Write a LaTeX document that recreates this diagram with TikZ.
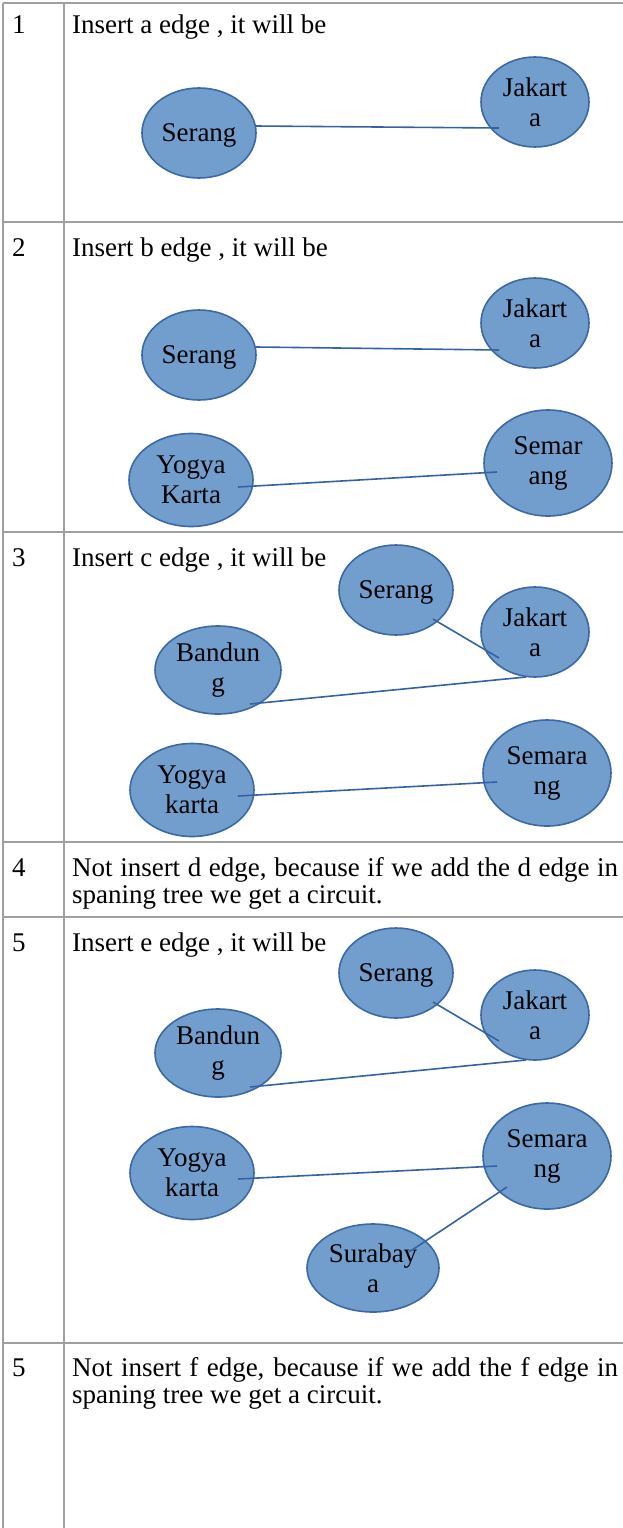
\documentclass[tikz,border=0pt]{standalone}
\usepackage{fontspec}
\setmainfont{Liberation Serif}
\usetikzlibrary{shapes.geometric,calc}
\definecolor{fil}{RGB}{114,158,206}
\definecolor{bdr}{RGB}{60,104,166}
\definecolor{edg}{RGB}{52,98,165}
\definecolor{grid}{RGB}{160,160,160}
\tikzset{
  city/.style={ellipse, draw=bdr, fill=fil, line width=1.6pt, inner sep=0pt, align=center, font=\fontsize{27}{30}\selectfont},
  sm/.style={city, minimum width=114pt, minimum height=90pt, text depth=0pt},
  md/.style={city, minimum width=108pt, minimum height=90pt},
  yg/.style={city, minimum width=124pt, minimum height=93pt},
  big/.style={city, minimum width=128pt, minimum height=106pt},
  bd/.style={city, minimum width=126pt, minimum height=88pt},
  sb/.style={city, minimum width=132pt, minimum height=88pt},
  edge/.style={draw=edg, line width=1.6pt},
  rule/.style={draw=grid, line width=1.2pt},
  txt/.style={anchor=base west, inner sep=0pt, font=\fontsize{27}{27}\selectfont}
}
\begin{document}
\begin{tikzpicture}[x=1pt,y=-1pt]
\useasboundingbox (0,0) rectangle (623,1528);
% table rules
\draw[rule] (3,3) -- (623,3);
\draw[rule] (3,222) -- (623,222);
\draw[rule] (3,532) -- (623,532);
\draw[rule] (3,842) -- (623,842);
\draw[rule] (3,917) -- (623,917);
\draw[rule] (3,1343) -- (623,1343);
\draw[rule] (3,3) -- (3,1528);
\draw[rule] (64,3) -- (64,1528);
% row labels
\node[txt] (n1) at (12,34) {1};
\node[txt] (t1) at (72,34) {Insert a edge , it will be};
\node[txt] (n2) at (12,256) {2};
\node[txt] (t2) at (72,256) {Insert b edge , it will be};
\node[txt] (n3) at (12,566) {3};
\node[txt] (t3) at (72,566) {Insert c edge , it will be};
\node[txt] (n4) at (12,876) {4};
\node[txt] (t4a) at (72,876) {\makebox[546pt][s]{Not insert d edge, because if we add the d edge in}};
\node[txt] (t4b) at (72,903) {spaning tree we get a circuit.};
\node[txt] (n5) at (12,951) {5};
\node[txt] (t5) at (72,951) {Insert e edge , it will be};
\node[txt] (n6) at (12,1376) {5};
\node[txt] (t6a) at (72,1376) {\makebox[546pt][s]{Not insert f edge, because if we add the f edge in}};
\node[txt] (t6b) at (72,1403) {spaning tree we get a circuit.};
% row 1
\node[sm] (S1) at (199,133) {Serang};
\node[md] (J1) at (535,102) {Jakart\\a};
\draw[edge] ($(S1)+(57,-7)$) -- ($(J1)+(-36,26)$);
% row 2
\node[sm] (S2) at (199,355) {Serang};
\node[md] (J2) at (535,323) {Jakart\\a};
\node[yg] (Y2) at (191,480) {Yogya\\Karta};
\node[big] (M2) at (548,463) {Semar\\ang};
\draw[edge] ($(S2)+(57,-8)$) -- ($(J2)+(-36,27)$);
\draw[edge] ($(Y2)+(47,7)$) -- ($(M2)+(-51,9)$);
% row 3
\node[sm] (S3) at (396,590) {Serang};
\node[md] (J3) at (535,632) {Jakart\\a};
\node[bd] (B3) at (218,670) {Bandun\\g};
\node[yg] (Y3) at (192,790) {Yogya\\karta};
\node[big] (M3) at (547,773) {Semara\\ng};
\draw[edge] ($(S3)+(37,29)$) -- ($(J3)+(-36,26)$);
\draw[edge] ($(B3)+(32,34)$) -- ($(J3)+(-9,45)$);
\draw[edge] ($(Y3)+(46,6)$) -- ($(M3)+(-50,9)$);
% row 5
\node[sm] (S5) at (396,973) {Serang};
\node[md] (J5) at (535,1015) {Jakart\\a};
\node[bd] (B5) at (218,1053) {Bandun\\g};
\node[yg] (Y5) at (192,1173) {Yogya\\karta};
\node[big] (M5) at (547,1156) {Semara\\ng};
\node[sb] (U5) at (373,1268) {Surabay\\a};
\draw[edge] ($(S5)+(37,29)$) -- ($(J5)+(-36,26)$);
\draw[edge] ($(B5)+(32,34)$) -- ($(J5)+(-9,45)$);
\draw[edge] ($(Y5)+(46,6)$) -- ($(M5)+(-50,10)$);
\draw[edge] ($(M5)+(-40,31)$) -- ($(U5)+(36,-16)$);
\end{tikzpicture}
\end{document}
